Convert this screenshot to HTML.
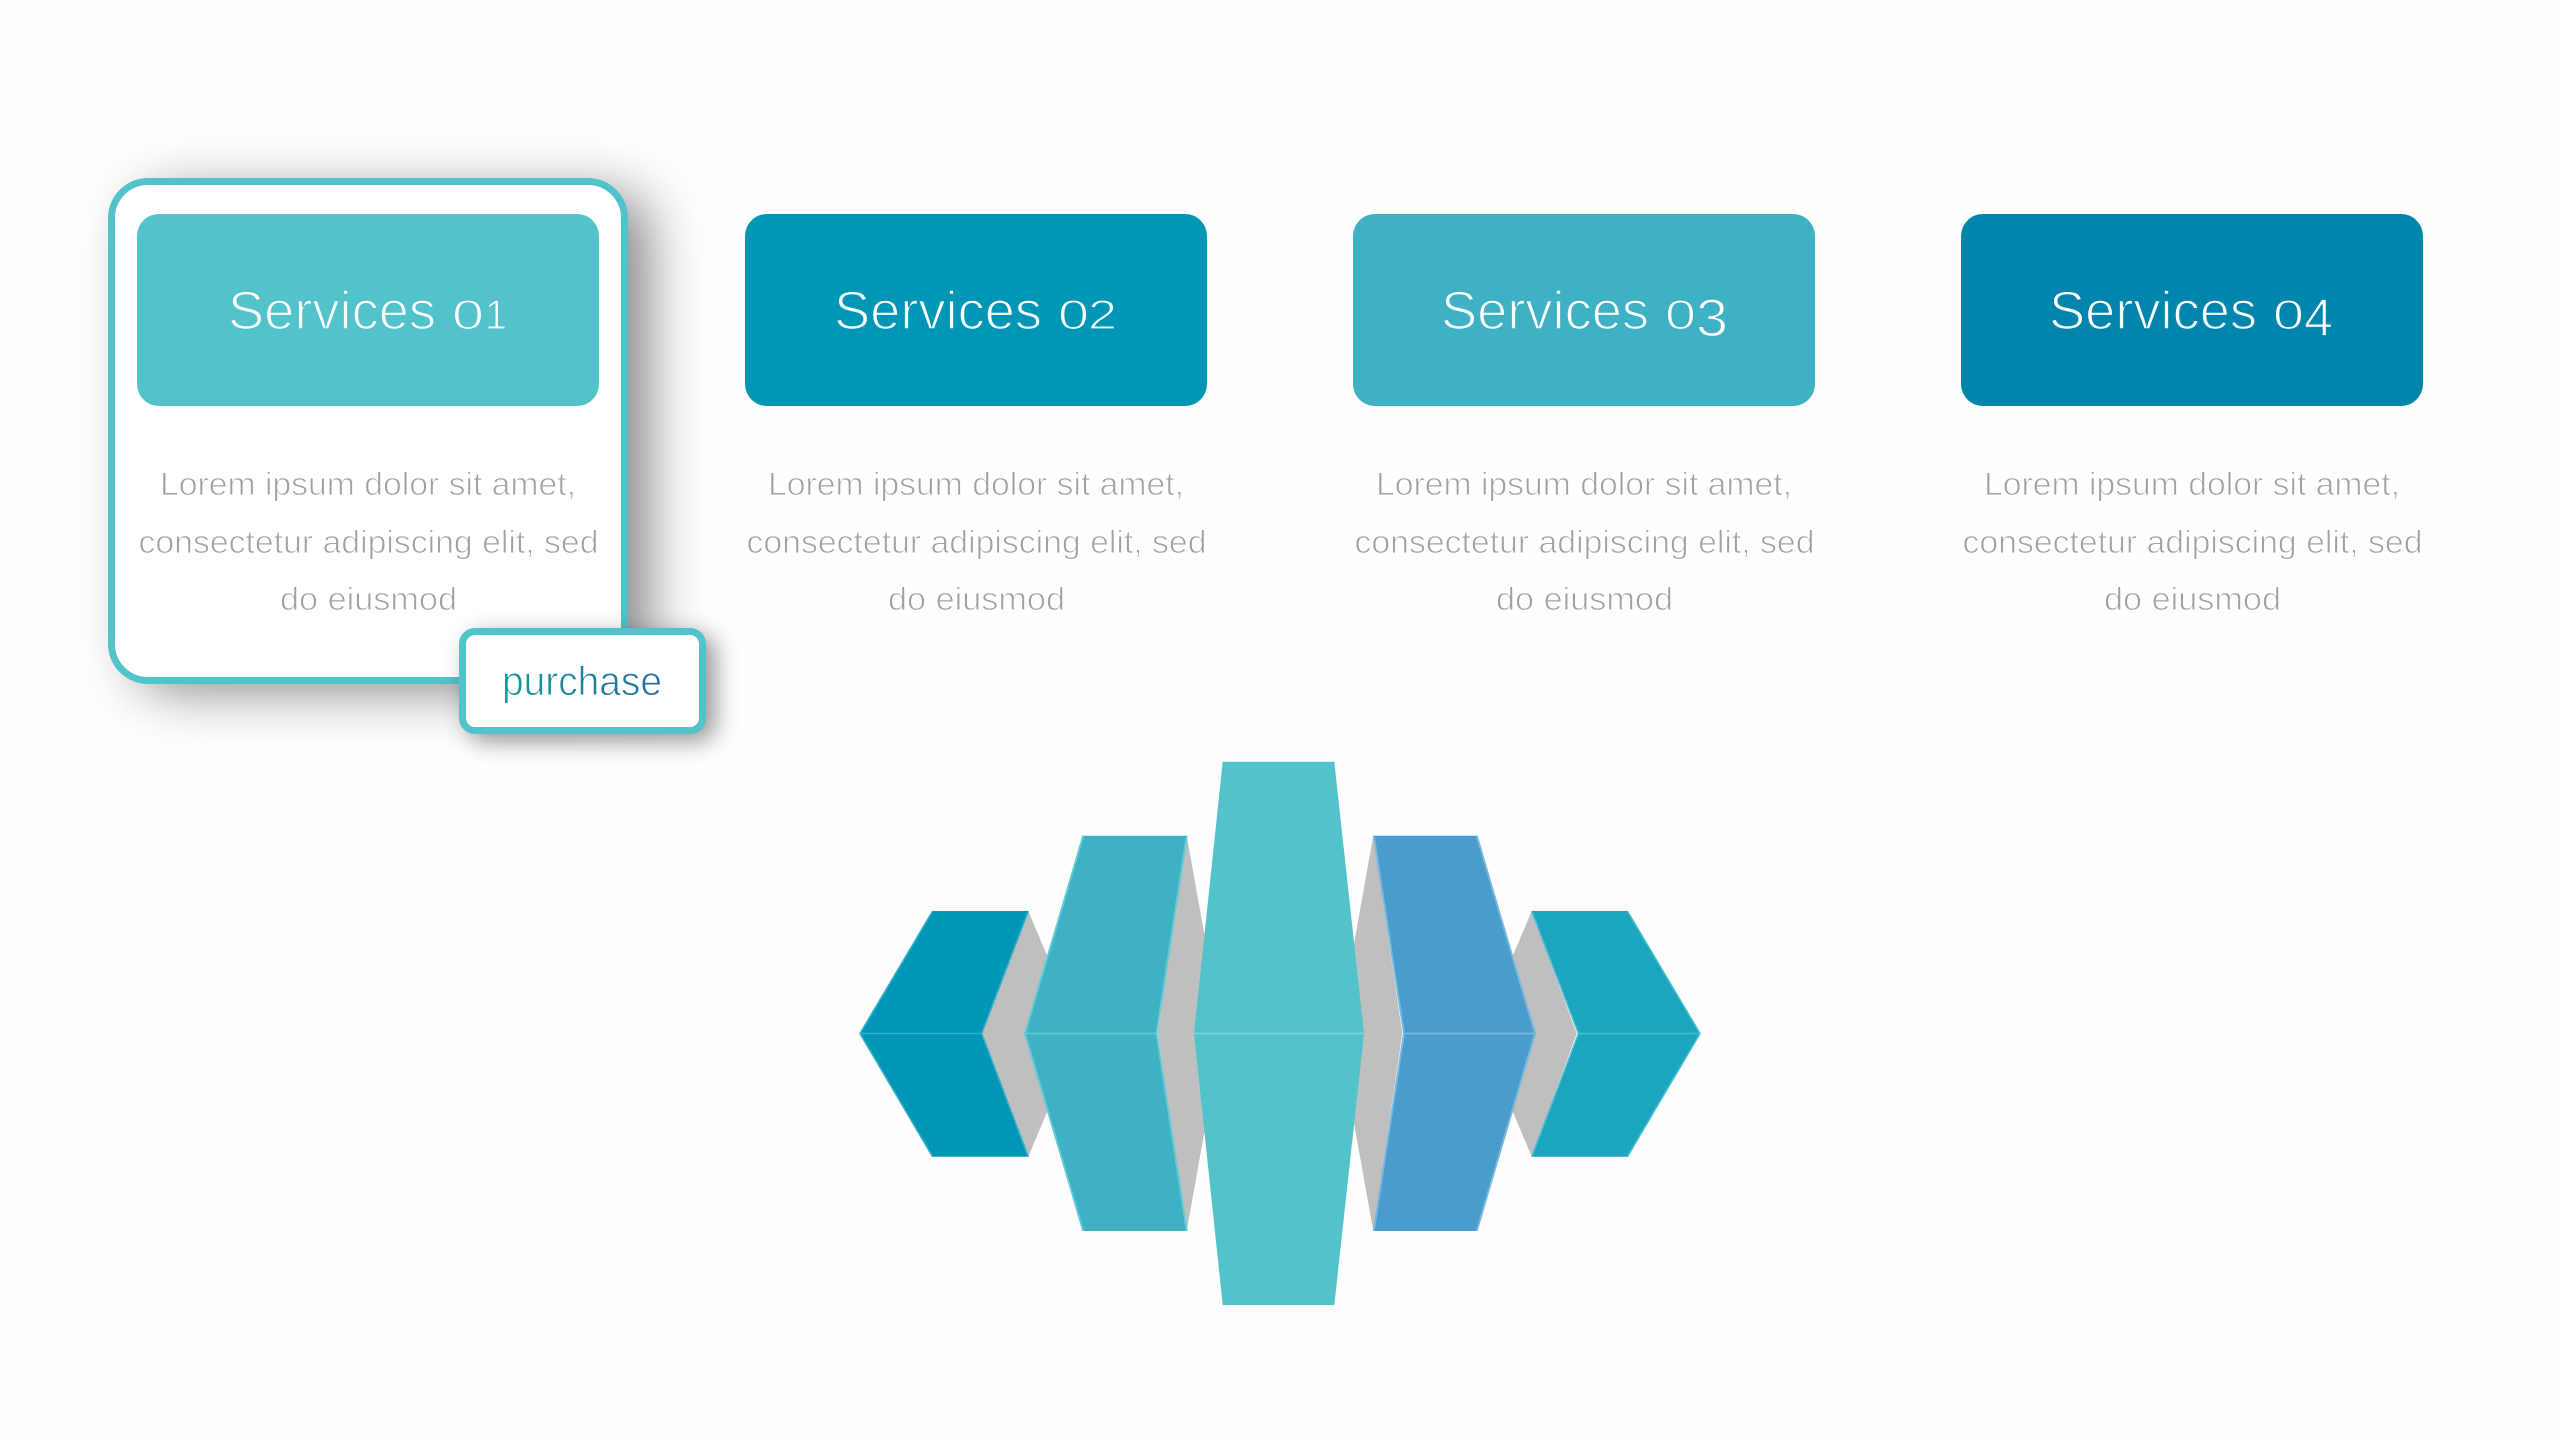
<!DOCTYPE html>
<html lang="en">
<head>
<meta charset="utf-8">
<title>Services</title>
<style>
html,body{margin:0;padding:0;background:#fefefe;}
body{position:relative;width:2560px;height:1440px;overflow:hidden;}
.card{position:absolute;left:108px;top:178px;width:506px;height:492px;border:7px solid #53c3cb;border-radius:40px;background:#fff;box-shadow:25px 11px 56px -5px rgba(0,0,0,.48);}
.h{position:absolute;top:214px;width:462px;height:192px;border-radius:22px;}
.pur{position:absolute;left:459px;top:628px;width:233px;height:92px;border:7px solid #53c3cb;border-radius:16px;background:#fff;box-shadow:9px 7px 24px rgba(0,0,0,.42);}
svg{position:absolute;left:0;top:0;}
text{font-family:"Liberation Sans",sans-serif;paint-order:fill stroke;}
.b{font-size:32px;fill:#a0a0a0;stroke:#fff;stroke-width:.9px;}
.s{font-size:54px;fill:#fff;stroke-width:1.5px;}
.d{font-size:42px;fill:#fff;stroke-width:1.2px;}
.e{font-size:53px;fill:#fff;stroke-width:1.3px;}
</style>
</head>
<body>
<div class="card"></div>
<div class="h" style="left:137px;background:#53c3cb"></div>
<div class="h" style="left:745px;background:#0097b7"></div>
<div class="h" style="left:1353px;background:#3eb1c4"></div>
<div class="h" style="left:1961px;background:#0185ad"></div>
<div class="pur"></div>
<svg width="2560" height="1440" viewBox="0 0 2560 1440" xmlns="http://www.w3.org/2000/svg">
<defs>
<linearGradient id="pg" gradientUnits="userSpaceOnUse" x1="504" y1="0" x2="661" y2="0">
<stop offset="0" stop-color="#0f9a98"/><stop offset="1" stop-color="#2a6aa3"/>
</linearGradient>
</defs>

<!-- Heading text -->
<g class="heads">
<text class="s" x="228" y="329" textLength="208" lengthAdjust="spacingAndGlyphs" stroke="#53c3cb">Services</text>
<text class="d" x="452" y="329" textLength="32" lengthAdjust="spacingAndGlyphs" stroke="#53c3cb">0</text>
<text class="d" x="485" y="329" textLength="22" lengthAdjust="spacingAndGlyphs" stroke="#53c3cb">1</text>

<text class="s" x="834" y="329" textLength="208" lengthAdjust="spacingAndGlyphs" stroke="#0097b7">Services</text>
<text class="d" x="1058" y="329" textLength="31" lengthAdjust="spacingAndGlyphs" stroke="#0097b7">0</text>
<text class="d" x="1088" y="329" textLength="29" lengthAdjust="spacingAndGlyphs" stroke="#0097b7">2</text>

<text class="s" x="1441" y="329" textLength="208" lengthAdjust="spacingAndGlyphs" stroke="#3eb1c4">Services</text>
<text class="d" x="1665" y="329" textLength="31" lengthAdjust="spacingAndGlyphs" stroke="#3eb1c4">0</text>
<text class="e" x="1696" y="336" textLength="32" lengthAdjust="spacingAndGlyphs" stroke="#3eb1c4">3</text>

<text class="s" x="2049" y="329" textLength="208" lengthAdjust="spacingAndGlyphs" stroke="#0185ad">Services</text>
<text class="d" x="2273" y="329" textLength="31" lengthAdjust="spacingAndGlyphs" stroke="#0185ad">0</text>
<text class="e" x="2304" y="336" textLength="29" lengthAdjust="spacingAndGlyphs" stroke="#0185ad">4</text>
</g>

<!-- Body text -->
<g>
<text class="b" x="160" y="495" textLength="416" lengthAdjust="spacingAndGlyphs">Lorem ipsum dolor sit amet,</text>
<text class="b" x="138.5" y="553" textLength="460" lengthAdjust="spacingAndGlyphs">consectetur adipiscing elit, sed</text>
<text class="b" x="280" y="610" textLength="177" lengthAdjust="spacingAndGlyphs">do eiusmod</text>

<text class="b" x="768" y="495" textLength="416" lengthAdjust="spacingAndGlyphs">Lorem ipsum dolor sit amet,</text>
<text class="b" x="746.5" y="553" textLength="460" lengthAdjust="spacingAndGlyphs">consectetur adipiscing elit, sed</text>
<text class="b" x="888" y="610" textLength="177" lengthAdjust="spacingAndGlyphs">do eiusmod</text>

<text class="b" x="1376" y="495" textLength="416" lengthAdjust="spacingAndGlyphs">Lorem ipsum dolor sit amet,</text>
<text class="b" x="1354.5" y="553" textLength="460" lengthAdjust="spacingAndGlyphs">consectetur adipiscing elit, sed</text>
<text class="b" x="1496" y="610" textLength="177" lengthAdjust="spacingAndGlyphs">do eiusmod</text>

<text class="b" x="1984" y="495" textLength="416" lengthAdjust="spacingAndGlyphs">Lorem ipsum dolor sit amet,</text>
<text class="b" x="1962.5" y="553" textLength="460" lengthAdjust="spacingAndGlyphs">consectetur adipiscing elit, sed</text>
<text class="b" x="2104" y="610" textLength="177" lengthAdjust="spacingAndGlyphs">do eiusmod</text>
</g>

<text x="502" y="695" font-size="41" textLength="160" lengthAdjust="spacingAndGlyphs" fill="url(#pg)" stroke="#fff" stroke-width=".9">purchase</text>

<!-- Gray connecting faces -->
<polygon fill="#bfbfbf" points="1028.3,911 1080,1033.5 1028.3,1156.8 981.7,1033.5"/>
<polygon fill="#bfbfbf" points="1186.7,835.7 1222,1033.5 1186.7,1231 1157.7,1033.5"/>
<polygon fill="#bfbfbf" points="1373.3,835.7 1338,1033.5 1373.3,1231 1402.3,1033.5"/>
<polygon fill="#bfbfbf" points="1531.7,911 1480,1033.5 1531.7,1156.8 1576.7,1033.5"/>

<!-- Shape 1 -->
<polygon fill="#0097b7" points="860,1033.5 932.7,911 1028.3,911 981.7,1033.5 1028.3,1156.8 932.7,1156.8"/>
<g fill="none" stroke="#35b0c8" stroke-width="1.6">
<polyline points="932.7,911 860,1033.5 932.7,1156.8"/>
<polyline points="1028.3,911 981.7,1033.5 1028.3,1156.8"/>
<line x1="860" y1="1033.5" x2="981.7" y2="1033.5"/>
</g>

<!-- Shape 2 -->
<polygon fill="#3eb1c4" points="1024.3,1033.5 1083.3,835.7 1186.7,835.7 1157,1033.5 1186.7,1231 1083.3,1231"/>
<g fill="none" stroke="#63cad5" stroke-width="2">
<polyline points="1083.3,835.7 1025,1033.5 1083.3,1231"/>
<polyline points="1186.7,835.7 1156.5,1033.5 1186.7,1231"/>
<line x1="1025" y1="1033.5" x2="1156" y2="1033.5" stroke-width="1.8"/>
</g>

<!-- Center shape -->
<polygon fill="#53c3cb" points="1194,1033.5 1222.7,761.8 1334.3,761.8 1364,1033.5 1334.3,1305 1222.7,1305"/>
<line x1="1194" y1="1033.5" x2="1364" y2="1033.5" stroke="#7ed3da" stroke-width="1.8"/>

<!-- Shape 4 (blue) -->
<polygon fill="#4a9ccc" points="1373.3,835.7 1476.7,835.7 1536,1033.5 1476.7,1231 1373.3,1231 1403.5,1033.5"/>
<g fill="none" stroke="#79b7dc" stroke-width="2">
<polyline points="1476.7,835.7 1535,1033.5 1476.7,1231"/>
<polyline points="1373.8,835.7 1404,1033.5 1373.8,1231"/>
<line x1="1404" y1="1033.5" x2="1535" y2="1033.5" stroke-width="1.8"/>
</g>

<!-- Shape 5 -->
<polygon fill="#1ba5be" points="1531.7,911 1627.3,911 1700.7,1033.5 1627.3,1156.8 1531.7,1156.8 1578,1033.5"/>
<g fill="none" stroke="#48bfd0" stroke-width="1.6">
<polyline points="1627.3,911 1700,1033.5 1627.3,1156.8"/>
<polyline points="1531.7,911 1578.5,1033.5 1531.7,1156.8"/>
<line x1="1578.5" y1="1033.5" x2="1700" y2="1033.5"/>
</g>
</svg>
</body>
</html>
